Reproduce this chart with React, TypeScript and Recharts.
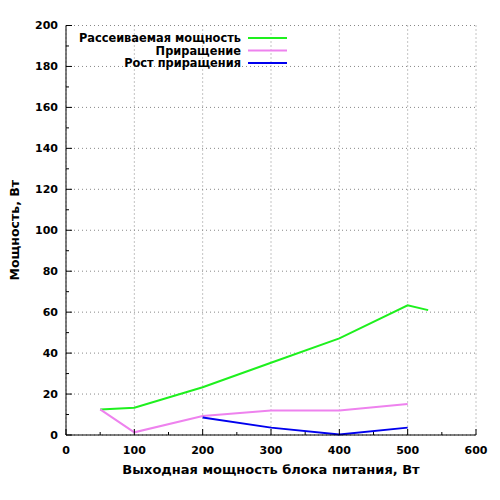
import React from 'react';
import { LineChart, Line, XAxis, YAxis, CartesianGrid, Legend } from 'recharts';

const dissipationX = [50, 100, 200, 300, 400, 500, 530];
const dissipationY = [12.5, 13.3, 23.3, 35.3, 47.2, 63.3, 61];
const incrementX = [50, 100, 200, 300, 400, 500];
const incrementY = [12.5, 1.3, 9.3, 12, 12, 15.1];
const growthX = [200, 300, 400, 500];
const growthY = [8.6, 3.6, 0.3, 3.6];

const seriesNames = ['Рассеиваемая мощность', 'Приращение', 'Рост приращения'];
const seriesColors = ['#1ef01e', '#ee82ee', '#0000ee'];

const xTicks = [0, 50, 100, 150, 200, 250, 300, 350, 400, 450, 500, 550, 600];
const xMajor = [0, 100, 200, 300, 400, 500, 600];
const yTicks = [0, 10, 20, 30, 40, 50, 60, 70, 80, 90, 100, 110, 120, 130, 140, 150, 160, 170, 180, 190, 200];
const yMajor = [0, 20, 40, 60, 80, 100, 120, 140, 160, 180, 200];

const xTitle = 'Выходная мощность блока питания, Вт';
const yTitle = 'Мощность, Вт';

const FONT = '"DejaVu Sans", sans-serif';

const toPoints = (xs: number[], ys: number[]) => xs.map((x, i) => ({ x, y: ys[i] }));
const seriesData = [
  toPoints(dissipationX, dissipationY),
  toPoints(incrementX, incrementY),
  toPoints(growthX, growthY),
];

const YTick = (props: any) => {
  const { x, y, payload } = props;
  const major = yMajor.includes(payload.value);
  return (
    <g>
      <line x1={x} x2={x + (major ? 6 : 3)} y1={y} y2={y} stroke="#000" strokeWidth={1} />
      {major && (
        <text x={x - 8} y={y} textAnchor="end" dominantBaseline="central" fontFamily={FONT} fontWeight="bold" fontSize={11} fill="#000">
          {payload.value}
        </text>
      )}
    </g>
  );
};

const XTick = (props: any) => {
  const { x, y, payload } = props;
  const major = xMajor.includes(payload.value);
  return (
    <g>
      <line x1={x} x2={x} y1={y} y2={y - (major ? 6 : 3)} stroke="#000" strokeWidth={1} />
      {major && (
        <text x={x} y={y + 15} textAnchor="middle" dominantBaseline="central" fontFamily={FONT} fontWeight="bold" fontSize={11} fill="#000">
          {payload.value}
        </text>
      )}
    </g>
  );
};

const LegendContent = () => (
  <svg width={300} height={70}>
    {seriesNames.map((name, i) => (
      <g key={name}>
        <text x={233} y={30 + i * 12.5} textAnchor="end" dominantBaseline="central" fontFamily={FONT} fontWeight="bold" fontSize={11.4} fill="#000">
          {name}
        </text>
        <line x1={240} x2={279} y1={30 + i * 12.5} y2={30 + i * 12.5} stroke={seriesColors[i]} strokeWidth={2} />
      </g>
    ))}
  </svg>
);

export default function App() {
  return (
    <LineChart width={492} height={492} margin={{ top: 17.5, right: 24, bottom: 0, left: 0 }}>
      <CartesianGrid
        stroke="#888"
        strokeDasharray="1 3"
        horizontalValues={yMajor}
        verticalValues={xMajor}
      />
      <XAxis
        type="number"
        dataKey="x"
        domain={[0, 600]}
        ticks={xTicks}
        interval={0}
        height={65}
        tickSize={0}
        tickMargin={0}
        tickLine={false}
        tick={<XTick />}
        stroke="#000"
        allowDuplicatedCategory={false}
        label={({ viewBox }: any) => (
          <text x={viewBox.x + viewBox.width / 2} y={viewBox.y + 34} textAnchor="middle" dominantBaseline="central" fontFamily={FONT} fontWeight="bold" fontSize={13} fill="#000">
            {xTitle}
          </text>
        )}
      />
      <YAxis
        type="number"
        dataKey="y"
        domain={[0, 200]}
        ticks={yTicks}
        interval={0}
        width={58}
        tickSize={0}
        tickMargin={0}
        tickLine={false}
        tick={<YTick />}
        stroke="#000"
        label={({ viewBox }: any) => {
          const cx = 6.5;
          const cy = viewBox.y + viewBox.height / 2;
          return (
            <text x={cx} y={cy} transform={`rotate(-90 ${cx} ${cy})`} textAnchor="middle" dominantBaseline="central" fontFamily={FONT} fontWeight="bold" fontSize={12.5} fill="#000">
              {yTitle}
            </text>
          );
        }}
      />
      <Legend
        layout="horizontal"
        verticalAlign="middle"
        align="center"
        content={<LegendContent />}
        wrapperStyle={{ top: 0, left: 0, width: 300, height: 70 }}
      />
      {seriesData.map((d, i) => (
        <Line
          key={seriesNames[i]}
          data={d}
          dataKey="y"
          name={seriesNames[i]}
          stroke={seriesColors[i]}
          strokeWidth={2}
          dot={false}
          activeDot={false}
          isAnimationActive={false}
          type="linear"
        />
      ))}
    </LineChart>
  );
}
